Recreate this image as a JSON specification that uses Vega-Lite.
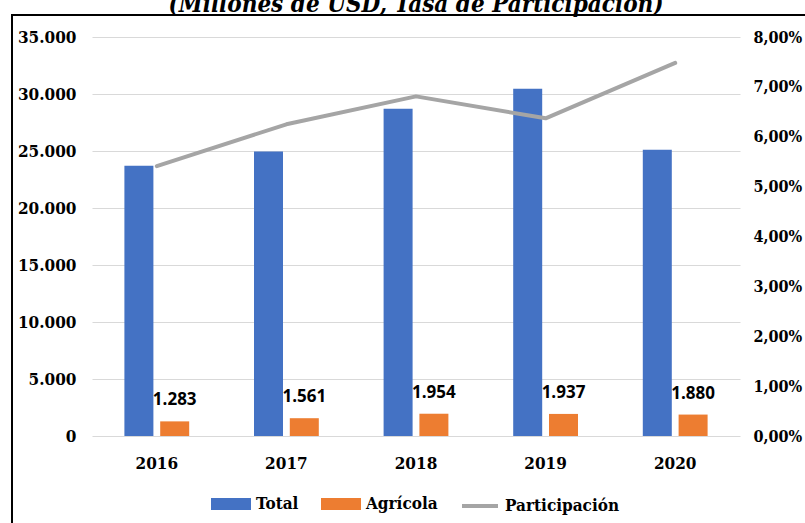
{
  "$schema": "https://vega.github.io/schema/vega-lite/v6.json",
  "autosize": {"type": "none"},
  "width": 648,
  "height": 399,
  "padding": {"left": 92, "top": 37, "right": 65, "bottom": 87},
  "background": "#ffffff",
  "title": {
    "text": "(Millones de USD, Tasa de Participación)",
    "font": "DejaVu Serif Condensed, DejaVu Serif",
    "fontSize": 24,
    "fontWeight": "bold",
    "fontStyle": "italic",
    "color": "#000000",
    "anchor": "middle",
    "frame": "group",
    "baseline": "alphabetic",
    "offset": 3,
    "dy": 25
  },
  "data": {
    "values": [
      {"Año": "2016", "Total": 23700, "Agrícola": 1283, "Participación": 0.0541},
      {"Año": "2017", "Total": 24950, "Agrícola": 1561, "Participación": 0.0625},
      {"Año": "2018", "Total": 28700, "Agrícola": 1954, "Participación": 0.0681},
      {"Año": "2019", "Total": 30450, "Agrícola": 1937, "Participación": 0.0637},
      {"Año": "2020", "Total": 25100, "Agrícola": 1880, "Participación": 0.0748}
    ]
  },
  "layer": [
    {
      "transform": [{"fold": ["Total", "Agrícola"], "as": ["serie", "valor"]}],
      "encoding": {
        "x": {
          "field": "Año", "type": "nominal",
          "scale": {"paddingInner": 0.5, "paddingOuter": 0.25},
          "axis": {
            "title": null, "labelAngle": 0, "ticks": false, "domain": false,
            "labelFont": "DejaVu Serif Condensed, DejaVu Serif", "labelFontSize": 17, "labelFontWeight": "bold",
            "labelColor": "#000000", "labelPadding": 19
          }
        },
        "xOffset": {"field": "serie", "type": "nominal", "sort": ["Total", "Agrícola"], "scale": {"paddingInner": 0.19, "paddingOuter": 0}},
        "y": {
          "field": "valor", "type": "quantitative",
          "scale": {"domain": [0, 35000], "nice": false},
          "axis": {
            "title": null, "orient": "left", "values": [0, 5000, 10000, 15000, 20000, 25000, 30000, 35000],
            "format": ",.0f", "grid": true, "gridColor": "#D9D9D9", "gridWidth": 1,
            "domain": false, "ticks": false, "labelPadding": 16,
            "labelFont": "DejaVu Serif Condensed, DejaVu Serif", "labelFontSize": 17, "labelFontWeight": "bold", "labelColor": "#000000"
          }
        }
      },
      "layer": [
        {
          "mark": {"type": "bar"},
          "encoding": {
            "color": {
              "field": "serie", "type": "nominal",
              "scale": {"domain": ["Total", "Agrícola", "Participación"], "range": ["#4472C4", "#ED7D31", "#A5A5A5"]},
              "legend": {
                "orient": "none", "legendX": 119, "legendY": 447, "direction": "horizontal",
                "title": null, "symbolSize": 1296, "symbolType": "M-1,-0.22H1V0.22H-1Z",
                "labelFont": "DejaVu Serif Condensed, DejaVu Serif", "labelFontSize": 17, "labelFontWeight": "bold",
                "labelColor": "#000000", "labelOffset": 5, "columnPadding": 16,
                "encode": {
                  "symbols": {
                    "update": {
                      "shape": [{"test": "datum.value === 'Participación'", "value": "M-1,0H1"}, {"value": "M-1,-0.22H1V0.22H-1Z"}],
                      "fill": [{"test": "datum.value === 'Participación'", "value": "transparent"}, {"scale": "color", "field": "value"}],
                      "stroke": [{"test": "datum.value === 'Participación'", "value": "#A5A5A5"}, {"value": "transparent"}],
                      "strokeWidth": {"value": 4},
                      "opacity": {"value": 1},
                      "fillOpacity": {"value": 1}
                    }
                  }
                }
              }
            }
          }
        },
        {
          "transform": [{"filter": "datum.serie === 'Agrícola'"}],
          "mark": {"type": "text", "baseline": "bottom", "dy": -12, "font": "Open Sans", "fontSize": 17, "fontWeight": "bold", "color": "#000000"},
          "encoding": {
            "text": {"field": "valor", "type": "quantitative", "format": ",.0f"}
          }
        }
      ]
    },
    {
      "mark": {"type": "line", "strokeWidth": 4, "strokeCap": "round", "strokeJoin": "round"},
      "encoding": {
        "x": {"field": "Año", "type": "nominal"},
        "y": {
          "field": "Participación", "type": "quantitative",
          "scale": {"domain": [0, 0.08], "nice": false},
          "axis": {
            "title": null, "orient": "right", "values": [0, 0.01, 0.02, 0.03, 0.04, 0.05, 0.06, 0.07, 0.08],
            "format": ".2%", "grid": false, "domain": false, "ticks": false, "labelPadding": 13,
            "labelFont": "DejaVu Serif Condensed, DejaVu Serif", "labelFontSize": 16, "labelFontWeight": "bold", "labelColor": "#000000"
          }
        },
        "color": {"datum": "Participación", "type": "nominal"}
      }
    },
    {
      "data": {"values": [{}]},
      "mark": {"type": "rect", "fill": "transparent", "stroke": "#000000", "strokeWidth": 2},
      "encoding": {
        "x": {"value": -80},
        "x2": {"value": 760},
        "y": {"value": -22},
        "y2": {"value": 500}
      }
    }
  ],
  "resolve": {"scale": {"y": "independent"}},
  "config": {
    "view": {"stroke": null},
    "locale": {"number": {"decimal": ",", "thousands": ".", "grouping": [3], "currency": ["$", ""]}}
  }
}
